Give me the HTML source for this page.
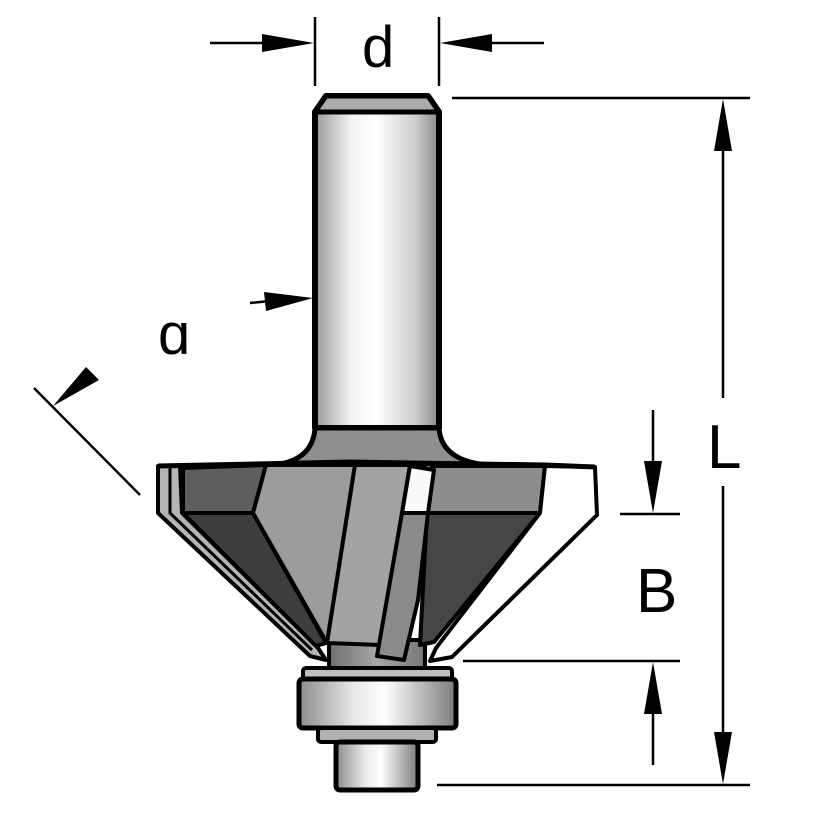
<!DOCTYPE html>
<html><head><meta charset="utf-8"><style>
html,body{margin:0;padding:0;background:#fff;width:814px;height:814px;overflow:hidden}
svg{display:block}
text{font-family:"Liberation Sans",sans-serif;fill:#000}
</style></head><body>
<svg width="814" height="814" viewBox="0 0 814 814" xmlns="http://www.w3.org/2000/svg">
<defs>
<linearGradient id="sh" x1="0" x2="1" y1="0" y2="0">
<stop offset="0" stop-color="#9a9a9a"/><stop offset="0.3" stop-color="#f4f4f4"/><stop offset="0.5" stop-color="#ffffff"/><stop offset="0.8" stop-color="#cfcfcf"/><stop offset="1" stop-color="#8a8a8a"/>
</linearGradient>
<linearGradient id="nk" x1="0" x2="1" y1="0" y2="0">
<stop offset="0" stop-color="#6e6e6e"/><stop offset="0.5" stop-color="#a8a8a8"/><stop offset="1" stop-color="#767676"/>
</linearGradient>
<linearGradient id="br" x1="0" x2="1" y1="0" y2="0">
<stop offset="0" stop-color="#8c8c8c"/><stop offset="0.35" stop-color="#e8e8e8"/><stop offset="0.55" stop-color="#ffffff"/><stop offset="1" stop-color="#7a7a7a"/>
</linearGradient>
</defs>
<g stroke="#000" stroke-linejoin="round">
<path d="M315,112 L326,96 L428,96 L439,112 L439,428 L315,428 Z" fill="url(#sh)" stroke-width="6"/>
<path d="M326,96 L428,96 L439,112 L315,112 Z" fill="#aaa" stroke-width="5"/>
<path d="M315,428 Q313,458 280,464 L480,464 Q441,458 439,428 Z" fill="#8f8f8f" stroke-width="5"/>
<rect x="329" y="640" width="96" height="30" fill="url(#nk)" stroke-width="4"/>
<path d="M158,466 L180,466 L182,513 L318,648 L326,660 L310,656 L158,513 Z" fill="#b5b5b5" stroke-width="4"/>
<path d="M170,466 L170,513 L312,650" fill="none" stroke-width="3"/>
<path d="M183,468 L266,465 L253,513 L183,513 Z" fill="#5e5e5e" stroke-width="4"/>
<path d="M183,513 L253,513 L326,643 L316,646 Z" fill="#3e3e3e" stroke-width="4"/>
<path d="M266,465 L355,465 L327,643 L253,513 Z" fill="#9c9c9c" stroke-width="4"/>
<path d="M355,465 L410,465 L380,645 L327,643 Z" fill="#a3a3a3" stroke-width="4"/>
<path d="M432,466 L545,466 L540,513 L427,513 Z" fill="#8d8d8d" stroke-width="4"/>
<path d="M427,513 L540,513 L434,642 L420,645 Z" fill="#464646" stroke-width="4"/>
<path d="M410,466 L434,470 L428,513 L402,513 Z" fill="#fafafa" stroke-width="4"/>
<path d="M402,513 L428,513 L418,600 L404,660 L377,656 Z" fill="#8a8a8a" stroke-width="4"/>
<path d="M545,466 L595,467 L597,515 L452,657 L430,661 L436,648 L540,513 Z" fill="#fff" stroke-width="4"/>
<path d="M158,466 L350,462 L545,465 L595,467" fill="none" stroke-width="5"/>
<rect x="303" y="668" width="149" height="12" rx="3" fill="#bdbdbd" stroke-width="4"/>
<rect x="299" y="679" width="157" height="49" rx="4" fill="url(#br)" stroke-width="5"/>
<rect x="318" y="728" width="118" height="14" rx="3" fill="#b0b0b0" stroke-width="4"/>
<rect x="336" y="742" width="82" height="48" rx="4" fill="url(#br)" stroke-width="5"/>
</g>
<g stroke="#000" stroke-width="2.5" fill="none">
<line x1="315" y1="17" x2="315" y2="86"/>
<line x1="439" y1="17" x2="439" y2="86"/>
<line x1="210" y1="43" x2="264" y2="43"/>
<line x1="492" y1="43" x2="544" y2="43"/>
<line x1="452" y1="98" x2="750" y2="98"/>
<line x1="437" y1="785" x2="750" y2="785"/>
<line x1="723" y1="140" x2="723" y2="398"/>
<line x1="723" y1="486" x2="723" y2="745"/>
<line x1="653" y1="410" x2="653" y2="470"/>
<line x1="620" y1="514" x2="680" y2="514"/>
<line x1="463" y1="661" x2="680" y2="661"/>
<line x1="653" y1="705" x2="653" y2="765"/>
<line x1="34" y1="388" x2="140" y2="495"/>
<line x1="250" y1="303" x2="270" y2="301"/>
</g>
<g fill="#000">
<polygon points="314,43 262,34 262,52"/>
<polygon points="440,43 492,34 492,52"/>
<polygon points="723,99 714,151 732,151"/>
<polygon points="723,784 714,732 732,732"/>
<polygon points="653,513 644,461 662,461"/>
<polygon points="653,662 644,714 662,714"/>
<polygon points="313,298 264,292 266,311"/>
<polygon points="53,406 86,367 99,380"/>
</g>
<text x="362" y="67" font-size="58">d</text>
<text x="707" y="468" font-size="62">L</text>
<text x="636" y="612" font-size="62">B</text>
<text x="158" y="354" font-size="58">ɑ</text>
</svg>
</body></html>
